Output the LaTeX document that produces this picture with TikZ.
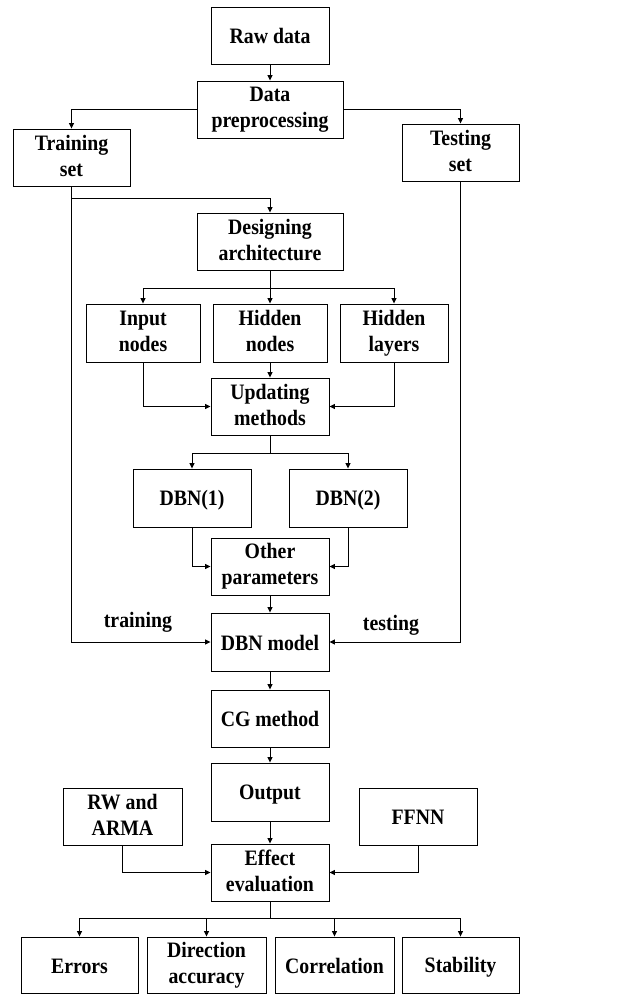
\documentclass[tikz,border=0pt]{standalone}
\usepackage{fontspec}
\setmainfont{Liberation Serif}[FakeStretch=0.9]
\usetikzlibrary{arrows.meta}
\newcommand{\bxstrut}{\rule[-4pt]{0pt}{24pt}}
\begin{document}
\begin{tikzpicture}[x=1pt,y=-1pt,
  box/.style={draw, line width=0.9pt, inner sep=0pt, align=center,
    font=\fontsize{22}{26}\selectfont\bfseries, minimum height=57pt,
    execute at begin node=\bxstrut, execute at end node=\bxstrut},
  lbl/.style={inner sep=0pt, font=\fontsize{22}{26}\selectfont\bfseries},
  arr/.style={line width=0.9pt, -{Triangle[length=5.5pt,width=5pt]}},
  ln/.style={line width=0.9pt}]
\useasboundingbox (0,0) rectangle (625,994);
% nodes
\node[box, minimum width=118pt] (raw) at (270,35.5) {Raw data};
\node[box, minimum width=146pt] (prep) at (270,109.5) {Data\\preprocessing};
\node[box, minimum width=117pt] (train) at (71.5,157.5) {Training\\set};
\node[box, minimum width=117pt] (test) at (460.5,152.5) {Testing\\set};
\node[box, minimum width=146pt] (design) at (270,241.5) {Designing\\architecture};
\node[box, minimum width=114pt, minimum height=58pt] (input) at (143,333) {Input\\nodes};
\node[box, minimum width=114pt, minimum height=58pt] (hnodes) at (270,333) {Hidden\\nodes};
\node[box, minimum width=108pt, minimum height=58pt] (hlayers) at (394,333) {Hidden\\layers};
\node[box, minimum width=118pt] (upd) at (270,406.5) {Updating\\methods};
\node[box, minimum width=118pt, minimum height=58pt] (dbn1) at (192,498) {DBN(1)};
\node[box, minimum width=118pt, minimum height=58pt] (dbn2) at (348,498) {DBN(2)};
\node[box, minimum width=118pt] (other) at (270,566.5) {Other\\parameters};
\node[box, minimum width=118pt, minimum height=58pt] (model) at (270,642) {DBN model};
\node[box, minimum width=118pt] (cg) at (270,718.5) {CG method};
\node[box, minimum width=118pt, minimum height=58pt] (output) at (270,792) {Output};
\node[box, minimum width=119pt] (rw) at (122.5,816.5) {RW and\\ARMA};
\node[box, minimum width=118pt] (ffnn) at (418,816.5) {FFNN};
\node[box, minimum width=118pt] (effect) at (270,872.5) {Effect\\evaluation};
\node[box, minimum width=117pt, minimum height=56pt] (errors) at (79.5,965) {Errors};
\node[box, minimum width=119pt, minimum height=56pt] (dir) at (206.5,965) {Direction\\accuracy};
\node[box, minimum width=119pt, minimum height=56pt] (corr) at (334.5,965) {Correlation};
\node[box, minimum width=117pt, minimum height=56pt] (stab) at (460.5,965) {Stability};
\node[lbl] (ltrain) at (138,622) {training};
\node[lbl] (ltest) at (391,625) {testing};
% branch points
\coordinate (tb) at (71.5,198);
\coordinate (db) at (270,288);
\coordinate (ub) at (270,453);
\coordinate (eb) at (270,918);
% connectors
\draw[arr] (raw) -- (prep);
\draw[arr] (prep.west) -| (train.north);
\draw[arr] (prep.east) -| (test.north);
\draw[arr] (train.south) |- (model.west);
\draw[arr] (tb) -| (design.north);
\draw[arr] (test.south) |- (model.east);
\draw[ln] (design.south) -- (db);
\draw[arr] (db) -| (input.north);
\draw[arr] (db) -- (hnodes.north);
\draw[arr] (db) -| (hlayers.north);
\draw[arr] (hnodes) -- (upd);
\draw[arr] (input.south) |- (upd.west);
\draw[arr] (hlayers.south) |- (upd.east);
\draw[ln] (upd.south) -- (ub);
\draw[arr] (ub) -| (dbn1.north);
\draw[arr] (ub) -| (dbn2.north);
\draw[arr] (dbn1.south) |- (other.west);
\draw[arr] (dbn2.south) |- (other.east);
\draw[arr] (other) -- (model);
\draw[arr] (model) -- (cg);
\draw[arr] (cg) -- (output);
\draw[arr] (output) -- (effect);
\draw[arr] (rw.south) |- (effect.west);
\draw[arr] (ffnn.south) |- (effect.east);
\draw[ln] (effect.south) -- (eb);
\draw[arr] (eb) -| (errors.north);
\draw[arr] (eb) -| (dir.north);
\draw[arr] (eb) -| (corr.north);
\draw[arr] (eb) -| (stab.north);
\end{tikzpicture}
\end{document}
